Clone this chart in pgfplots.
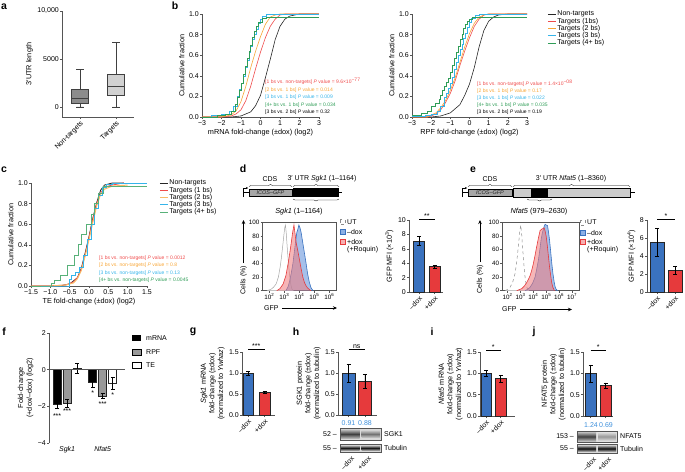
\documentclass[border=0pt]{standalone}
\usepackage{pgfplots}
\pgfplotsset{compat=1.18}
\usepgfplotslibrary{statistics}
\usetikzlibrary{decorations.pathreplacing,arrows.meta}
\usepackage{fontspec}
\setmainfont{Liberation Sans}

\definecolor{cdfred}{HTML}{EF4B4B}
\definecolor{cdforange}{HTML}{F7A535}
\definecolor{cdfblue}{HTML}{35B4EA}
\definecolor{cdfgreen}{HTML}{2F9D57}
\definecolor{barblue}{HTML}{3A72BF}
\definecolor{barred}{HTML}{E63A3C}
\definecolor{histblue}{HTML}{5B8DD8}
\definecolor{histred}{HTML}{F07A7C}
\definecolor{numblue}{HTML}{3D8FDB}
\definecolor{axgray}{HTML}{555555}

\pgfplotsset{
  prism/.style={
    scale only axis, anchor=south west,
    axis x line*=bottom, axis y line*=left,
    axis line style={-, axgray, line width=0.6pt},
    tick align=outside, major tick length=2pt,
    tick style={axgray, line width=0.6pt},
    /pgf/number format/assume math mode=true,
    tick label style={font=\fontsize{7}{8}\selectfont, inner sep=1pt},
    label style={font=\fontsize{7.3}{8.6}\selectfont},
    clip=false,
  },
  cdf/.style={prism, xmin=-3, xmax=3, ymin=0, ymax=1, height=103pt,
    xtick={-3,-2,-1,0,1,2,3}, xticklabels={−3,−2,−1,0,1,2,3},
    ytick={0,0.2,0.4,0.6,0.8,1}, yticklabels={0.0,0.2,0.4,0.6,0.8,1.0},
    ylabel={Cumulative fraction}},
  cdfleg/.style={legend cell align=left,
    legend style={at={#1}, anchor=north west, draw=none, fill=none,
      font=\fontsize{7}{8}\selectfont, row sep=-1.3pt, nodes={inner sep=1pt}},
    legend image code/.code={\draw[##1, line width=1pt] (0pt,0pt) -- (8pt,0pt);}},
  hist/.style={scale only axis, anchor=south west, ymin=0, ymax=100, height=68.4pt,
    ytick={0,20,40,60,80,100}, xtick pos=left, ytick pos=left,
    tick align=outside, major tick length=2pt,
    axis line style={axgray, line width=0.6pt}, tick style={axgray, line width=0.6pt},
    /pgf/number format/assume math mode=true,
    tick label style={font=\fontsize{6.3}{7}\selectfont, inner sep=1pt}},
  barp/.style={ybar, bar shift=0pt, draw=black!85, line width=0.5pt,
    /pgfplots/error bars/y dir=both, /pgfplots/error bars/y explicit,
    /pgfplots/error bars/error bar style={black, line width=0.6pt}},
  % error bars of a shifted bar have to be shifted as well
  ebshift/.style={/pgfplots/error bars/error bar style={xshift=#1}},
  dox/.style={xtick={1,2}, xticklabels={–dox,+dox},
    xticklabel style={rotate=45, anchor=north east}},
  three/.style={ylabel style={align=center}},
}

\begin{document}
\begin{tikzpicture}[font=\fontsize{7}{8.4}\selectfont]
\useasboundingbox (0pt,0pt) rectangle (685pt,-471pt);

% ---------- a  (3'UTR length, in thousands of nt on the axis)
\begin{axis}[prism, at={(62pt,-117pt)}, width=72pt, height=106pt,
  boxplot/draw direction=y,
  xmin=0.5, xmax=2.5, ymin=-1.05, ymax=10,
  xtick={1,2}, xticklabels={Non-targets,Targets},
  xticklabel style={rotate=45, anchor=north east},
  ytick={0,5,10}, yticklabels={0,5000,{10,000}},
  ylabel={3′UTR length}]
\addplot[boxplot prepared={median=0.9, lower quartile=0.4, upper quartile=1.8,
  lower whisker=0, upper whisker=3.9, draw position=1, box extend=0.47, whisker extend=0.2},
  draw=black!75, fill=black!45, line width=0.6pt] coordinates {};
\addplot[boxplot prepared={median=2.1, lower quartile=1.2, upper quartile=3.35,
  lower whisker=0, upper whisker=6.7, draw position=2, box extend=0.47, whisker extend=0.2},
  draw=black!75, fill=black!18, line width=0.6pt] coordinates {};
\end{axis}

% ---------- b, mRNA
\begin{axis}[cdf, at={(202pt,-117pt)}, width=117pt,
  xlabel={mRNA fold-change (±dox) (log2)}]
\addplot[black!85, line width=0.6pt] coordinates {
  (-3,0) (-1.5,0) (-1,0.01) (-0.5,0.05) (-0.25,0.11) (0,0.21) (0.25,0.38) (0.5,0.56)
  (0.75,0.75) (1,0.88) (1.25,0.95) (1.5,0.98) (2,1) (3,1)};
\addplot[cdfred, line width=0.6pt] coordinates {
  (-3,0) (-2,0) (-1.5,0.01) (-1.25,0.03) (-1,0.07) (-0.75,0.16) (-0.5,0.3) (-0.25,0.47)
  (0,0.63) (0.25,0.77) (0.5,0.88) (0.75,0.95) (1,0.99) (1.25,1) (3,1)};
\addplot[cdforange, line width=0.6pt] coordinates {
  (-3,0) (-2,0) (-1.5,0.02) (-1.25,0.06) (-1,0.15) (-0.75,0.3) (-0.5,0.48) (-0.25,0.64)
  (0,0.78) (0.25,0.9) (0.5,0.97) (0.75,0.99) (1,1) (3,1)};
\addplot[cdfblue, line width=0.6pt, const plot] coordinates {
  (-3,0) (-2.5,0.02) (-2,0.03) (-1.6,0.06) (-1.4,0.1) (-1.2,0.2) (-1.1,0.27) (-1,0.33)
  (-0.9,0.4) (-0.8,0.48) (-0.7,0.55) (-0.6,0.63) (-0.5,0.69) (-0.4,0.75) (-0.3,0.8)
  (-0.2,0.85) (-0.1,0.91) (0,0.95) (0.1,0.98) (0.3,1) (3,1)};
\addplot[cdfgreen, line width=0.6pt, const plot] coordinates {
  (-3,0) (-2.2,0.02) (-1.8,0.03) (-1.5,0.06) (-1.3,0.12) (-1.2,0.19) (-1.1,0.26) (-1,0.33)
  (-0.9,0.41) (-0.8,0.49) (-0.7,0.57) (-0.6,0.64) (-0.5,0.7) (-0.4,0.77) (-0.3,0.83)
  (-0.2,0.88) (-0.1,0.92) (0.1,0.96) (0.3,0.97) (3,0.97)};
\end{axis}

% ---------- b, RPF
\begin{axis}[cdf, at={(412pt,-117pt)}, width=115pt,
  xlabel={RPF fold-change (±dox) (log2)}, cdfleg={(1.15,1.06)}]
\addplot[black!85, line width=0.6pt] coordinates {
  (-3,0) (-2,0) (-1.5,0.01) (-1,0.04) (-0.5,0.12) (-0.25,0.21) (0,0.32) (0.25,0.48)
  (0.5,0.68) (0.75,0.84) (1,0.93) (1.25,0.97) (1.5,0.99) (2,1) (3,1)};
\addplot[cdfred, line width=0.6pt] coordinates {
  (-3,0) (-2.2,0) (-2,0.01) (-1.75,0.03) (-1.5,0.07) (-1.25,0.14) (-1,0.23) (-0.75,0.35)
  (-0.5,0.5) (-0.25,0.64) (0,0.77) (0.25,0.88) (0.5,0.95) (0.75,0.99) (1,1) (3,1)};
\addplot[cdforange, line width=0.6pt] coordinates {
  (-3,0) (-2.2,0) (-2,0.02) (-1.75,0.04) (-1.5,0.09) (-1.25,0.16) (-1,0.26) (-0.75,0.38)
  (-0.5,0.53) (-0.25,0.68) (0,0.81) (0.25,0.91) (0.5,0.97) (0.75,0.99) (1,1) (3,1)};
\addplot[cdfblue, line width=0.6pt, const plot] coordinates {
  (-3,0.01) (-2.3,0.02) (-2,0.03) (-1.7,0.06) (-1.5,0.1) (-1.3,0.19) (-1.2,0.23) (-1.1,0.28)
  (-1,0.33) (-0.9,0.39) (-0.8,0.46) (-0.7,0.53) (-0.6,0.6) (-0.5,0.66) (-0.4,0.71)
  (-0.3,0.76) (-0.2,0.81) (-0.1,0.87) (0,0.92) (0.1,0.96) (0.3,0.99) (0.5,1) (3,1)};
\addplot[cdfgreen, line width=0.6pt, const plot] coordinates {
  (-3,0.02) (-2.5,0.04) (-2.2,0.06) (-2,0.1) (-1.8,0.13) (-1.6,0.17) (-1.5,0.21) (-1.4,0.26)
  (-1.3,0.3) (-1.2,0.34) (-1.1,0.38) (-1,0.43) (-0.9,0.5) (-0.8,0.57) (-0.7,0.63)
  (-0.6,0.69) (-0.5,0.75) (-0.4,0.8) (-0.3,0.86) (-0.2,0.9) (-0.1,0.93) (0,0.95)
  (0.15,0.97) (3,0.97)};
\legend{Non-targets, Targets (1bs), Targets (2 bs), Targets (3 bs), Targets (4+ bs)}
\end{axis}

% ---------- c
\begin{axis}[prism, at={(31pt,-286pt)}, width=116pt, height=103pt,
  xmin=-1.5, xmax=1.5, ymin=0, ymax=1,
  xtick={-1.5,-1,-0.5,0,0.5,1,1.5}, xticklabels={−1.5,−1.0,−0.5,0.0,0.5,1.0,1.5},
  ytick={0,0.2,0.4,0.6,0.8,1}, yticklabels={0.0,0.2,0.4,0.6,0.8,1.0},
  xlabel={TE fold-change (±dox) (log2)}, ylabel={Cumulative fraction},
  cdfleg={(1.08,1.06)}]
\addplot[black!85, line width=0.8pt] coordinates {
  (-1.5,0) (-1,0) (-0.7,0.005) (-0.5,0.02) (-0.3,0.08) (-0.2,0.17) (-0.1,0.32) (0,0.48)
  (0.1,0.66) (0.2,0.81) (0.3,0.93) (0.4,0.98) (0.6,1) (0.9,1)};
\addplot[cdfred, line width=0.8pt] coordinates {
  (-1.5,0) (-1,0) (-0.6,0.01) (-0.4,0.04) (-0.3,0.08) (-0.2,0.16) (-0.1,0.3) (0,0.47)
  (0.1,0.65) (0.2,0.8) (0.3,0.9) (0.4,0.96) (0.6,0.98) (0.9,1)};
\addplot[cdforange!75, line width=1pt] coordinates {
  (-1.5,0) (-1,0) (-0.6,0.01) (-0.4,0.03) (-0.3,0.07) (-0.2,0.15) (-0.1,0.29) (0,0.45)
  (0.1,0.62) (0.2,0.78) (0.3,0.89) (0.4,0.94) (0.6,0.97) (1,0.98)};
\addplot[cdfblue, line width=0.8pt, const plot] coordinates {
  (-1.5,0) (-0.55,0) (-0.5,0.06) (-0.45,0.1) (-0.35,0.13) (-0.25,0.18) (-0.15,0.3)
  (-0.05,0.45) (0.05,0.6) (0.15,0.75) (0.25,0.88) (0.35,0.96) (0.45,0.99) (0.6,1) (1.5,1)};
\addplot[cdfgreen!80, line width=0.8pt, const plot] coordinates {
  (-1.5,0) (-1,0) (-0.98,0.03) (-0.9,0.05) (-0.75,0.1) (-0.57,0.2) (-0.39,0.3) (-0.27,0.4)
  (-0.19,0.5) (-0.08,0.6) (0.07,0.7) (0.15,0.8) (0.24,0.9) (0.37,0.97) (1.5,0.97)};
\legend{Non-targets, Targets (1 bs), Targets (2 bs), Targets (3 bs), Targets (4+ bs)}
\end{axis}

% ---------- d histogram
\begin{axis}[hist, at={(262.7pt,-290.7pt)}, width=73.3pt, xmin=1.55, xmax=6.45,
  xtick={2,3,4,5,6},
  xticklabels={10\textsuperscript{2},10\textsuperscript{3},10\textsuperscript{4},10\textsuperscript{5},10\textsuperscript{6}}]
\addplot[black!35, line width=0.5pt, fill=white] coordinates {
  (1.83,0) (2.1,2) (2.27,5) (2.45,10) (2.6,20) (2.72,35) (2.81,50) (2.9,68) (2.96,80)
  (3.02,92) (3.07,96) (3.12,85) (3.2,60) (3.28,38) (3.36,20) (3.44,8) (3.51,2) (3.6,0)};
\addplot[barblue, line width=0.6pt, fill=histblue, fill opacity=0.55] coordinates {
  (3.1,0) (3.25,6) (3.36,15) (3.47,27) (3.57,40) (3.66,56) (3.75,72) (3.83,85) (3.9,90)
  (3.97,96) (4.04,92) (4.12,85) (4.23,70) (4.34,55) (4.45,40) (4.55,25) (4.66,13)
  (4.77,5) (4.85,2) (4.92,0)};
\addplot[barred, line width=0.6pt, fill=histred, fill opacity=0.55] coordinates {
  (2.49,0) (2.7,3) (2.92,10) (3.1,22) (3.25,40) (3.38,58) (3.47,72) (3.55,85) (3.64,96)
  (3.72,82) (3.79,70) (3.9,58) (4.01,45) (4.12,32) (4.23,20) (4.34,12) (4.45,7) (4.55,4)
  (4.66,2) (4.77,0)};
\end{axis}

% ---------- d bars
\begin{axis}[prism, dox, at={(409pt,-292pt)}, width=34pt, height=72pt,
  xmin=0.35, xmax=2.55, ymin=0, ymax=10, ytick={0,2,4,6,8,10},
  ylabel={GFP MFI (×10\textsuperscript{3})}]
\addplot[barp, bar width=11pt, fill=barblue] coordinates {(1,7.1) +- (0,0.6)};
\addplot[barp, bar width=11pt, fill=barred] coordinates {(2,3.55) +- (0,0.2)};
\draw[line width=0.6pt] (axis cs:1,10.1) -- (axis cs:2,10.1)
  node[midway, above, inner sep=0.5pt] {**};
\end{axis}

% ---------- e histogram
\begin{axis}[hist, at={(502.3pt,-290.7pt)}, width=77pt, xmin=1.58, xmax=7.57,
  xtick={2,3,4,5,6,7},
  xticklabels={10\textsuperscript{2},10\textsuperscript{3},10\textsuperscript{4},10\textsuperscript{5},10\textsuperscript{6},10\textsuperscript{7}}]
\addplot[black!45, line width=0.5pt, dashed, fill=white] coordinates {
  (1.79,0) (2.0,2) (2.18,5) (2.38,12) (2.57,25) (2.7,42) (2.83,65) (2.93,85) (3.01,96)
  (3.09,82) (3.17,60) (3.26,38) (3.35,20) (3.44,8) (3.53,3) (3.69,0)};
\addplot[barblue, line width=0.6pt, fill=histblue, fill opacity=0.55] coordinates {
  (3.35,0) (3.55,2) (3.74,5) (3.94,11) (4.13,20) (4.26,32) (4.39,45) (4.5,60) (4.6,75)
  (4.7,85) (4.78,90) (4.85,95) (4.91,97) (5.0,96) (5.1,95) (5.18,85) (5.25,75) (5.34,58)
  (5.43,40) (5.52,25) (5.62,12) (5.7,5) (5.77,2) (5.88,0)};
\addplot[barred, line width=0.6pt, fill=histred, fill opacity=0.55] coordinates {
  (2.7,0) (3.09,3) (3.3,7) (3.48,12) (3.62,17) (3.74,22) (3.87,30) (4.0,40) (4.13,52)
  (4.26,65) (4.39,77) (4.52,88) (4.65,90) (4.75,91) (4.83,92) (4.9,88) (4.99,80) (5.08,66)
  (5.17,50) (5.26,34) (5.36,20) (5.43,11) (5.51,5) (5.64,0)};
\end{axis}

% ---------- e bars
\begin{axis}[prism, dox, at={(647pt,-292pt)}, width=36pt, height=72pt,
  xmin=0.44, xmax=2.44, ymin=0, ymax=8, ytick={0,2,4,6,8},
  ylabel={GFP MFI (×10\textsuperscript{4})}]
\addplot[barp, bar width=14pt, fill=barblue] coordinates {(1,5.5) +- (0,1.55)};
\addplot[barp, bar width=14pt, fill=barred] coordinates {(2,2.4) +- (0,0.45)};
\draw[line width=0.6pt] (axis cs:1,8.1) -- (axis cs:2,8.1)
  node[midway, above, inner sep=0.5pt] {*};
\end{axis}

% ---------- f
\begin{axis}[prism, three, at={(49pt,-443pt)}, width=76pt, height=110pt,
  xmin=0.49, xmax=2.63, ymin=-4, ymax=2,
  ytick={-4,-2,0,2}, yticklabels={−4,−2,0,2},
  xtick={1,2}, xticklabels={\textit{Sgk1},\textit{Nfat5}},
  x axis line style={draw=none}, xtick style={draw=none},
  ylabel={Fold-change\\(+dox/–dox) (log2)}]
\addplot[barp, bar width=8pt, bar shift=-10pt, ebshift=-10pt, fill=black] coordinates {
  (1,-1.87) +- (0,0.22) (2,-0.68) +- (0,0.3)};
\addplot[barp, bar width=8pt, bar shift=0pt, fill=black!40] coordinates {
  (1,-1.83) +- (0,0.2) (2,-1.43) +- (0,0.13)};
\addplot[barp, bar width=8pt, bar shift=10pt, ebshift=10pt, fill=white] coordinates {
  (1,0.07) +- (0,0.28) (2,-0.73) +- (0,0.32)};
\draw[axgray, line width=0.6pt] (axis cs:0.49,0) -- (axis cs:2.63,0);
\node[xshift=-10pt, inner sep=0pt] at (axis cs:1,-2.55) {***};
\node[inner sep=0pt] at (axis cs:1,-2.25) {***};
\node[xshift=-10pt, inner sep=0pt] at (axis cs:2,-1.3) {*};
\node[inner sep=0pt] at (axis cs:2,-1.9) {***};
\node[xshift=10pt, inner sep=0pt] at (axis cs:2,-1.4) {*};
\end{axis}

% ---------- g
\begin{axis}[prism, dox, three, at={(242pt,-415pt)}, width=33pt, height=63pt,
  xmin=0.636, xmax=2.636, ymin=0, ymax=1.5,
  ytick={0,0.5,1,1.5}, yticklabels={0.0,0.5,1.0,1.5},
  ylabel={\textit{Sgk1} mRNA\\fold-change (±dox)\\(normalized to \textit{Ywhaz})}]
\addplot[barp, bar width=10.5pt, fill=barblue] coordinates {(1,1.0) +- (0,0.05)};
\addplot[barp, bar width=10.5pt, fill=barred] coordinates {(2,0.54) +- (0,0.03)};
\draw[line width=0.6pt] (axis cs:1,1.57) -- (axis cs:2,1.57)
  node[midway, above, inner sep=0.5pt] {***};
\end{axis}

% ---------- h
\begin{axis}[prism, three, at={(338pt,-415pt)}, width=39pt, height=63pt,
  xmin=0.36, xmax=2.73, ymin=0, ymax=1.5, xtick={1,2}, xticklabels={,},
  ytick={0,0.5,1,1.5}, yticklabels={0.0,0.5,1.0,1.5},
  ylabel={SGK1 protein\\fold-change (±dox)\\(normalized to tubulin)}]
\addplot[barp, bar width=13pt, fill=barblue] coordinates {(1,1.0) +- (0,0.22)};
\addplot[barp, bar width=13pt, fill=barred] coordinates {(2,0.8) +- (0,0.16)};
\draw[line width=0.6pt] (axis cs:1,1.57) -- (axis cs:2,1.57)
  node[midway, above, inner sep=0.5pt] {ns};
\end{axis}

% ---------- i
\begin{axis}[prism, dox, three, at={(480pt,-416pt)}, width=35pt, height=64pt,
  xmin=0.586, xmax=3.0, ymin=0, ymax=1.5,
  ytick={0,0.5,1,1.5}, yticklabels={0.0,0.5,1.0,1.5},
  ylabel={\textit{Nfat5} mRNA\\fold-change (±dox)\\(normalized to \textit{Ywhaz})}]
\addplot[barp, bar width=10.5pt, fill=barblue] coordinates {(1,1.0) +- (0,0.07)};
\addplot[barp, bar width=10.5pt, fill=barred] coordinates {(2,0.88) +- (0,0.08)};
\draw[line width=0.6pt] (axis cs:1,1.55) -- (axis cs:2,1.55)
  node[midway, above, inner sep=0.5pt] {*};
\end{axis}

% ---------- j
\begin{axis}[prism, three, at={(583pt,-416pt)}, width=30pt, height=64pt,
  xmin=0.49, xmax=2.49, ymin=0, ymax=1.5, xtick={1,2}, xticklabels={,},
  ytick={0,0.5,1,1.5}, yticklabels={0.0,0.5,1.0,1.5},
  ylabel={NFAT5 protein\\fold-change (±dox)\\(normalized to tubulin)}]
\addplot[barp, bar width=11.7pt, fill=barblue] coordinates {(1,1.0) +- (0,0.2)};
\addplot[barp, bar width=11.7pt, fill=barred] coordinates {(2,0.72) +- (0,0.06)};
\draw[line width=0.6pt] (axis cs:1,1.55) -- (axis cs:2,1.55)
  node[midway, above, inner sep=0.5pt] {*};
\end{axis}

% ---------- annotations, schematics, blots
\begin{scope}[x=1pt, y=-1pt]
\tikzset{pl/.style={font=\bfseries\fontsize{10.5}{10.5}\selectfont, inner sep=0pt},
  pv/.style={anchor=west, font=\fontsize{5}{6}\selectfont, inner sep=0pt}}
\node[pl] at (4,7) {a};
\node[pl] at (175,6) {b};
\node[pl] at (4,170) {c};
\node[pl] at (243,169) {d};
\node[pl] at (473,170) {e};
\node[pl] at (4,332) {f};
\node[pl] at (193,332) {g};
\node[pl] at (296,332) {h};
\node[pl] at (432,332) {i};
\node[pl] at (534,332) {j};

% P values
\node[pv, text=cdfred] at (265,81) {[1 bs vs. non-targets] \textit{P} value = 9.6×10\textsuperscript{−77}};
\node[pv, text=cdforange] at (265,90.5) {[2 bs vs. 1 bs] \textit{P} value = 0.014};
\node[pv, text=cdfblue] at (265,97.7) {[3 bs vs. 1 bs] \textit{P} value = 0.009};
\node[pv, text=cdfgreen] at (265,104.8) {[4+ bs vs. 1 bs] \textit{P} value = 0.034};
\node[pv, text=black] at (265,112) {[3 bs vs. 2 bs] \textit{P} value = 0.32};
\node[pv, text=cdfred] at (477,83) {[1 bs vs. non-targets] \textit{P} value = 1.4×10\textsuperscript{−08}};
\node[pv, text=cdforange] at (477,91) {[2 bs vs. 1 bs] \textit{P} value = 0.17};
\node[pv, text=cdfblue] at (477,98) {[3 bs vs. 1 bs] \textit{P} value = 0.022};
\node[pv, text=cdfgreen] at (477,105) {[4+ bs vs. 1 bs] \textit{P} value = 0.035};
\node[pv, text=black] at (477,112) {[3 bs vs. 2 bs] \textit{P} value = 0.19};
\node[pv, text=cdfred] at (99,258) {[1 bs vs. non-targets] \textit{P} value = 0.0012};
\node[pv, text=cdforange] at (99,265.5) {[2 bs vs. non-targets] \textit{P} value = 0.8};
\node[pv, text=cdfblue] at (99,273) {[3 bs vs. non-targets] \textit{P} value = 0.13};
\node[pv, text=cdfgreen] at (99,280.5) {[4+ bs vs. non-targets] \textit{P} value = 0.0045};

% d schematic
\draw[line width=0.5pt] (243,192.5) -- (342,192.5);
\draw[line width=0.5pt, -{Stealth[length=2pt,width=2pt]}] (243,197) -- (243,188) -- (248,188);
\draw[line width=0.4pt, fill=black!35] (249,189) rectangle (292,196);
\node[font=\itshape\fontsize{5.5}{6}\selectfont, text=black!85] at (270.5,192.5) {ICOS–GFP};
\fill[black] (293,188) rectangle (339,197);
\draw[decorate, decoration={brace, amplitude=2pt}, line width=0.4pt] (249,186.5) -- (292,186.5);
\draw[decorate, decoration={brace, amplitude=2pt}, line width=0.4pt] (293,186.5) -- (339,186.5);
\draw[decorate, decoration={brace, amplitude=2pt}, line width=0.4pt] (339,199) -- (293,199);
\node at (270,179) {CDS};
\node at (322,179) {3′ UTR \textit{Sgk1} (1–1164)};
\node[font=\fontsize{7.3}{8}\selectfont] at (299,212) {\textit{Sgk1} (1–1164)};

% e schematic
\draw[line width=0.5pt] (462,192.5) -- (635,192.5);
\draw[line width=0.5pt, -{Stealth[length=2pt,width=2pt]}] (462,197) -- (462,188) -- (467,188);
\draw[line width=0.4pt, fill=black!35] (468,189) rectangle (512,196);
\node[font=\itshape\fontsize{5.5}{6}\selectfont, text=black!85] at (490,192.5) {ICOS–GFP};
\draw[line width=0.4pt, fill=black!20] (513,188) rectangle (630,197);
\fill[black] (531,188) rectangle (548,197);
\draw[decorate, decoration={brace, amplitude=2pt}, line width=0.4pt] (468,186.5) -- (512,186.5);
\draw[decorate, decoration={brace, amplitude=2pt}, line width=0.4pt] (513,186.5) -- (630,186.5);
\draw[decorate, decoration={brace, amplitude=2pt}, line width=0.4pt] (552,199) -- (527,199);
\node at (490,179) {CDS};
\node at (571,179) {3′ UTR \textit{Nfat5} (1–8360)};
\node[font=\fontsize{7.3}{8}\selectfont] at (539,212) {\textit{Nfat5} (979–2630)};

% cells / GFP axis arrows
\node[rotate=90] at (243.5,280) {Cells (\%)};
\draw[line width=0.6pt, -{Stealth[length=4pt,width=3.5pt]}] (243.5,263) -- (243.5,220);
\node[rotate=90] at (480,279) {Cells (\%)};
\draw[line width=0.6pt, -{Stealth[length=4pt,width=3.5pt]}] (480,262) -- (480,220);
\node[anchor=west, inner sep=0pt] at (264,308) {GFP};
\draw[line width=0.6pt, -{Stealth[length=4pt,width=3.5pt]}] (282,308) -- (337,308);
\node[anchor=west, inner sep=0pt] at (502,309.5) {GFP};
\draw[line width=0.6pt, -{Stealth[length=4pt,width=3.5pt]}] (520,309.5) -- (572,309.5);

% histogram legends
\draw[black!45, dashed, line width=0.4pt] (340,219.5) rectangle (345,224.5);
\draw[barblue, fill=histblue!70, line width=0.4pt] (340,229.5) rectangle (345,234.5);
\draw[barred, fill=histred!60, line width=0.4pt] (340,239) rectangle (345,244);
\node[anchor=west, inner sep=0pt] at (347,222) {UT};
\node[anchor=west, inner sep=0pt] at (347,232) {–dox};
\node[anchor=west, inner sep=0pt] at (347,241.5) {+dox};
\node[anchor=west, inner sep=0pt] at (347,249.8) {(+Roquin)};
\draw[black!45, dashed, line width=0.4pt] (580,220) rectangle (585,225);
\draw[barblue, fill=histblue!70, line width=0.4pt] (580,230) rectangle (585,235);
\draw[barred, fill=histred!60, line width=0.4pt] (580,239) rectangle (585,244);
\node[anchor=west, inner sep=0pt] at (587,222.5) {UT};
\node[anchor=west, inner sep=0pt] at (587,232.5) {–dox};
\node[anchor=west, inner sep=0pt] at (587,241.5) {+dox};
\node[anchor=west, inner sep=0pt] at (587,250) {(+Roquin)};

% f legend
\fill[black] (132,335) rectangle (141,341);
\draw[black, fill=black!40, line width=0.5pt] (132,349) rectangle (141,355);
\draw[black, fill=white, line width=0.5pt] (132,362) rectangle (141,368);
\node[anchor=west, inner sep=0pt] at (146,338) {mRNA};
\node[anchor=west, inner sep=0pt] at (146,352) {RPF};
\node[anchor=west, inner sep=0pt] at (146,365) {TE};

% h blot
\node[text=numblue] at (348.5,423) {0.91};
\node[text=numblue] at (365,423) {0.88};
\draw[axgray, fill=black!15, line width=0.5pt] (340,428) rectangle (381,440);
\shade[top color=black!25, bottom color=black!25, middle color=black!75] (341,429.5) rectangle (359.5,438.5);
\shade[top color=black!22, bottom color=black!22, middle color=black!55] (361.5,430.5) rectangle (380,437.5);
\draw[axgray, fill=black!15, line width=0.5pt] (340,444) rectangle (381,452);
\shade[top color=black!30, bottom color=black!30, middle color=black!90] (341,445.5) rectangle (359.5,450.5);
\shade[top color=black!30, bottom color=black!30, middle color=black!90] (361.5,445.5) rectangle (380,450.5);
\node[anchor=east, inner sep=1pt] at (338,434) {52 –};
\node[anchor=east, inner sep=1pt] at (338,448) {55 –};
\node[anchor=west, inner sep=0pt] at (384,434) {SGK1};
\node[anchor=west, inner sep=0pt] at (384,448) {Tubulin};
\node[rotate=45, anchor=north east, inner sep=1pt] at (351,454) {–dox};
\node[rotate=45, anchor=north east, inner sep=1pt] at (368,454) {+dox};

% j blot
\node[text=numblue] at (591,425) {1.24};
\node[text=numblue] at (606,425) {0.69};
\draw[axgray, fill=black!12, line width=0.5pt] (577,431) rectangle (617,442);
\shade[top color=black!25, bottom color=black!25, middle color=black!75] (578,432) rectangle (596,441);
\shade[top color=black!15, bottom color=black!15, middle color=black!40] (598,432.5) rectangle (616,440.5);
\draw[axgray, fill=black!15, line width=0.5pt] (577,444) rectangle (617,453);
\shade[top color=black!30, bottom color=black!30, middle color=black!95] (578,445.5) rectangle (596,451.5);
\shade[top color=black!30, bottom color=black!30, middle color=black!95] (598,445.5) rectangle (616,451.5);
\node[anchor=east, inner sep=1pt] at (575,436) {153 –};
\node[anchor=east, inner sep=1pt] at (575,448.5) {55 –};
\node[anchor=west, inner sep=0pt] at (620,436) {NFAT5};
\node[anchor=west, inner sep=0pt] at (620,448.5) {Tubulin};
\node[rotate=45, anchor=north east, inner sep=1pt] at (593,455) {–dox};
\node[rotate=45, anchor=north east, inner sep=1pt] at (608,455) {+dox};
\end{scope}
\end{tikzpicture}
\end{document}
